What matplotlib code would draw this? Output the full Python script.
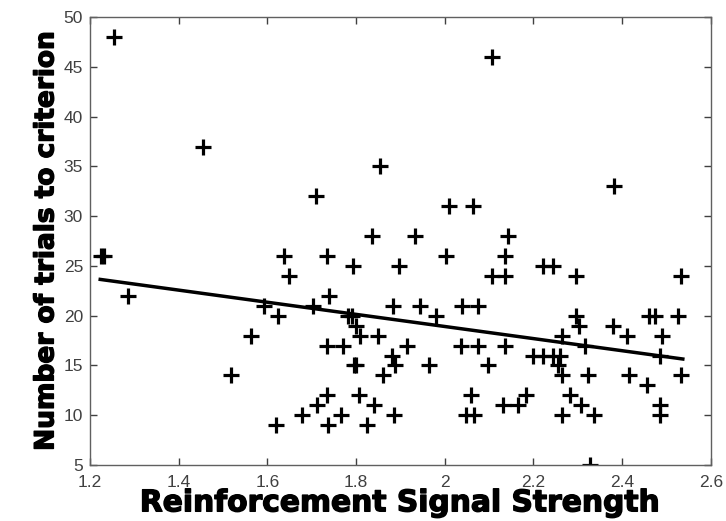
import matplotlib
matplotlib.use("Agg")
import matplotlib.pyplot as plt
import matplotlib.patheffects as pe

# values
signal = [1.225, 1.232, 1.255, 1.286, 1.455, 1.518, 1.563, 1.593, 1.623, 1.619,
          1.638, 1.649, 1.679, 1.703, 1.709, 1.711, 1.734, 1.740, 1.734, 1.771,
          1.734, 1.737, 1.766, 1.782, 1.792, 1.790, 1.801, 1.809, 1.849, 1.795,
          1.799, 1.807, 1.841, 1.824, 1.836, 1.854, 1.897, 1.884, 1.861, 1.880,
          1.888, 1.886, 1.914, 1.934, 1.944, 1.980, 1.964, 2.002, 2.010, 2.064,
          2.107, 2.038, 2.075, 2.036, 2.075, 2.137, 2.098, 2.060, 2.047, 2.066,
          2.107, 2.137, 2.137, 2.142, 2.132, 2.166, 2.183, 2.200, 2.222, 2.245,
          2.260, 2.255, 2.265, 2.265, 2.265, 2.282, 2.308, 2.337, 2.222, 2.244,
          2.297, 2.296, 2.302, 2.316, 2.323, 2.327, 2.382, 2.380, 2.410, 2.416,
          2.456, 2.461, 2.474, 2.526, 2.490, 2.486, 2.486, 2.486, 2.532, 2.532]
trials = [26, 26, 48, 22, 37, 14, 18, 21, 20, 9,
          26, 24, 10, 21, 32, 11, 26, 22, 17, 17,
          12, 9, 10, 20, 25, 20, 19, 18, 18, 15,
          15, 12, 11, 9, 28, 35, 25, 21, 14, 16,
          15, 10, 17, 28, 21, 20, 15, 26, 31, 31,
          46, 21, 21, 17, 17, 17, 15, 12, 10, 10,
          24, 24, 26, 28, 11, 11, 12, 16, 16, 16,
          16, 15, 14, 18, 10, 12, 11, 10, 25, 25,
          24, 20, 19, 17, 14, 5, 33, 19, 18, 14,
          13, 20, 20, 20, 18, 16, 11, 10, 14, 24]

# regression line end points
fit_x = [1.223, 2.537]
fit_y = [23.65, 15.65]

xticks = [1.2, 1.4, 1.6, 1.8, 2.0, 2.2, 2.4, 2.6]
xticklabels = ["1.2", "1.4", "1.6", "1.8", "2", "2.2", "2.4", "2.6"]
yticks = [5, 10, 15, 20, 25, 30, 35, 40, 45, 50]

fig = plt.figure(figsize=(7.26, 5.21), dpi=100)
ax = fig.add_axes([0.124, 0.1075, 0.855, 0.8595])

ax.plot(signal, trials, linestyle="none", marker="+", color="black",
        markersize=11, markeredgewidth=2.3)
ax.plot(fit_x, fit_y, color="black", linewidth=2.5)

ax.set_xlim(1.2, 2.6)
ax.set_ylim(5, 50)
ax.set_xticks(xticks)
ax.set_xticklabels(xticklabels)
ax.set_yticks(yticks)

ax.tick_params(direction="in", top=True, right=True, length=5, width=1,
               color="#404040", labelcolor="#404040", labelsize=12.5)
ax.tick_params(axis="x", pad=7)
ax.tick_params(axis="y", pad=5)
for s in ax.spines.values():
    s.set_color("#606060")
    s.set_linewidth(1)

bold = [pe.withStroke(linewidth=1.0, foreground="black")]
ax.set_xlabel("Reinforcement Signal Strength", fontsize=21.4, fontweight="bold",
              family="DejaVu Sans", labelpad=-1, path_effects=bold)
ax.set_ylabel("Number of trials to criterion", fontsize=19, fontweight="bold",
              family="DejaVu Sans", labelpad=3, path_effects=bold)
for lab in ax.get_xticklabels() + ax.get_yticklabels():
    lab.set_family("Liberation Sans")

fig.savefig("out.png", dpi=100)
